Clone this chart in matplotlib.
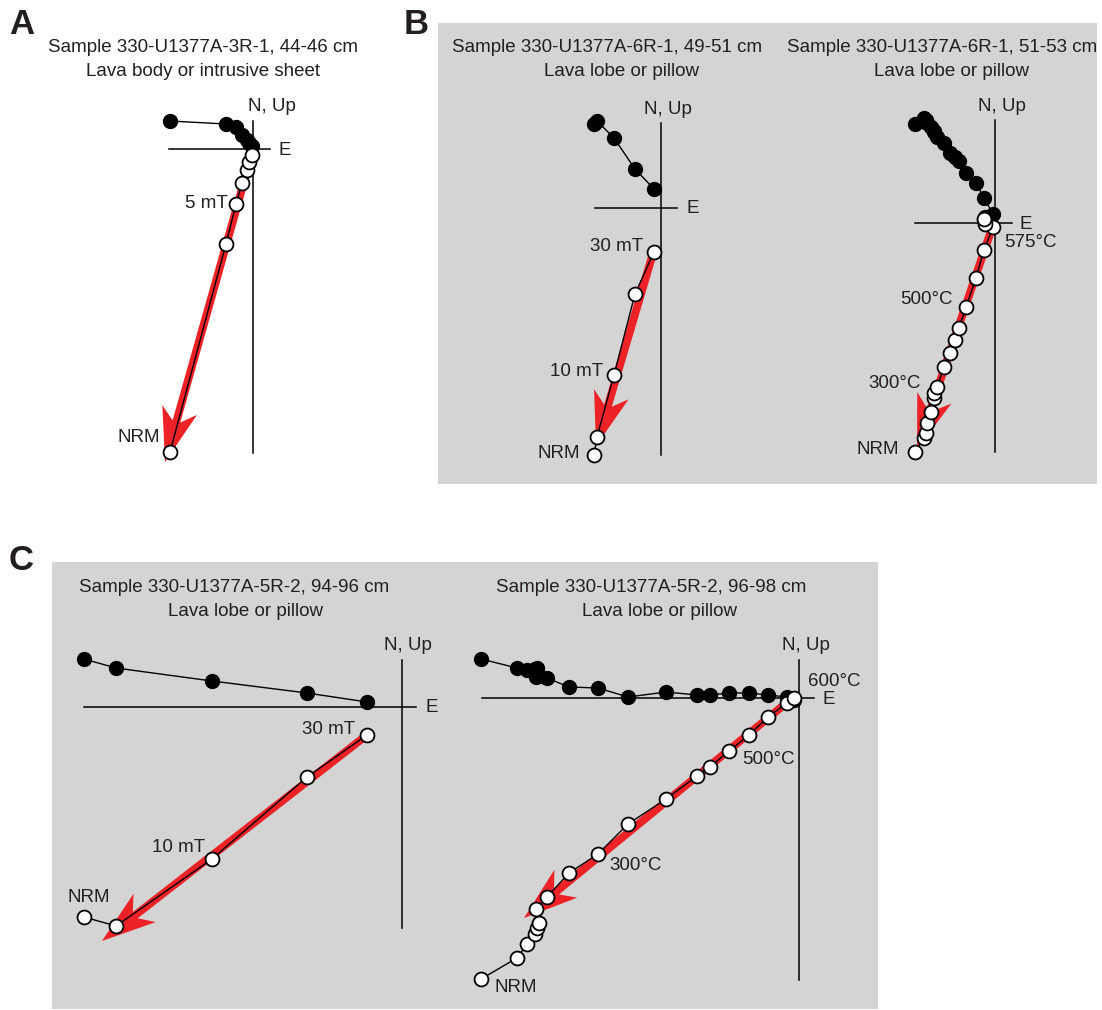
"""
Orthogonal vector (Zijderveld) plots for five Site U1377 samples.
"""

import matplotlib.pyplot as plt
import matplotlib.patches as mpatches

plt.rcParams["font.family"] = ["Liberation Sans", "DejaVu Sans"]

W, H = 1102, 1010
TXT = "#231f20"
RED = "#ec2227"
GREY = "#d4d4d4"

# ── data (arbitrary units, shared east component) ─────────────────────
a_east = [-83, -27, -17, -11, -6, -4, -1]
a_north = [28, 25, 22, 14, 9, 6, 3]
a_up = [-303, -95, -55, -34, -21, -13, -6]
a_fit = [(-2, -8), (-88, -313)]
a_labels = {0: "NRM", 2: "5 mT"}

bl_east = [-67, -64, -47, -26, -7]
bl_north = [84, 87, 70, 39, 19]
bl_up = [-247, -229, -167, -86, -44]
bl_fit = [(-7, -42), (-65, -238)]
bl_labels = {0: "NRM", 2: "10 mT", 4: "30 mT"}

br_east = [-80, -71, -69, -68, -64, -61, -61, -58, -51, -45, -40, -36,
           -29, -19, -11, -2, -10, -11]
br_north = [99, 105, 103, 100, 96, 92, 91, 86, 80, 70, 66, 62,
            50, 40, 25, 9, 6, 4]
br_up = [-229, -215, -210, -200, -189, -175, -170, -164, -144, -130, -117,
         -105, -84, -55, -27, -4, -1, 4]
br_fit = [(-2, -2), (-78, -226)]
br_labels = {0: "NRM", 7: "300°C", 12: "500°C", 15: "575°C"}

cl_east = [-318, -286, -190, -95, -35]
cl_north = [48, 39, 26, 14, 5]
cl_up = [-210, -219, -152, -70, -28]
cl_fit = [(-35, -28), (-300, -234)]
cl_labels = {0: "NRM", 2: "10 mT", 4: "30 mT"}

cr_east = [-318, -282, -272, -264, -262, -260, -263, -252, -230, -201, -171,
           -133, -102, -89, -70, -50, -31, -12, -5]
cr_north = [39, 30, 28, 29, 30, 22, 21, 20, 11, 10, 1, 6, 3, 3, 5, 5, 3, 1, -2]
cr_up = [-281, -260, -246, -236, -230, -225, -211, -199, -175, -156, -126,
         -101, -78, -69, -53, -37, -19, -5, 0]
cr_fit = [(-9, -2), (-275, -220)]
cr_labels = {0: "NRM", 9: "300°C", 14: "500°C", 18: "600°C"}


fig = plt.figure(figsize=(W / 100, H / 100), dpi=100)

# grey backgrounds behind B and C
bg = fig.add_axes([0, 0, 1, 1], zorder=-10)
bg.set_xlim(0, W)
bg.set_ylim(H, 0)
bg.axis("off")
for x0, y0, x1, y1 in [(438, 23, 1097, 484), (52, 562, 878, 1009)]:
    bg.add_patch(mpatches.Rectangle((x0, y0), x1 - x0, y1 - y0,
                                    facecolor=GREY, edgecolor="none"))


def zijderveld(origin, xlim, ylim, east, north, up, fit, labels, label_pos,
               npos, epos):
    """Axes in pixel-like units with origin at the cross of the axis lines."""
    ox, oy = origin
    ax = fig.add_axes([(ox + xlim[0]) / W, 1 - (oy - ylim[0]) / H,
                       (xlim[1] - xlim[0]) / W, (ylim[1] - ylim[0]) / H])
    ax.set_xlim(*xlim)
    ax.set_ylim(*ylim)
    ax.patch.set_visible(False)
    for s in ("top", "right"):
        ax.spines[s].set_visible(False)
    for s in ("left", "bottom"):
        ax.spines[s].set_position("zero")
        ax.spines[s].set_linewidth(1.1)
    ax.set_xticks([])
    ax.set_yticks([])

    (x0, y0), (x1, y1) = fit
    ax.arrow(x0, y0, x1 - x0, y1 - y0, width=8, head_width=36,
             head_length=54, overhang=0.22, length_includes_head=True,
             color=RED, lw=0, zorder=1, clip_on=False)

    ax.plot(east, north, color="k", lw=1.0, marker="o", ms=10,
            mfc="k", mec="k", zorder=3, clip_on=False)
    ax.plot(east, up, color="k", lw=1.0, marker="o", ms=10,
            mfc="white", mec="k", mew=1.3, zorder=3, clip_on=False)

    for i, txt in labels.items():
        dx, dy, ha = label_pos[i]
        ax.text(dx, dy, txt, ha=ha, va="center", fontsize=13.5, color=TXT)
    ax.text(npos[0], npos[1], "N, Up", ha="center", va="center",
            fontsize=13.5, color=TXT)
    ax.text(epos[0], epos[1], "E", ha="left", va="center",
            fontsize=13.5, color=TXT)
    return ax


zijderveld((253, 149), (-84, 17), (-304, 28), a_east, a_north, a_up, a_fit,
           a_labels, {0: (-93, -288, "right"), 2: (-25, -55, "right")},
           (19, 42), (25, -2))
zijderveld((661, 208), (-66, 16), (-247, 85), bl_east, bl_north, bl_up,
           bl_fit, bl_labels,
           {0: (-81, -245, "right"), 2: (-58, -163, "right"),
            4: (-18, -39, "right")},
           (7, 98), (25, -1))
zijderveld((995, 223), (-80, 17), (-229, 103), br_east, br_north, br_up,
           br_fit, br_labels,
           {0: (-96, -227, "right"), 7: (-74, -160, "right"),
            12: (-42, -77, "right"), 15: (9, -20, "left")},
           (7, 116), (25, -2))
zijderveld((402, 707), (-318, 14), (-221, 47), cl_east, cl_north, cl_up,
           cl_fit, cl_labels,
           {0: (-313, -190, "center"), 2: (-197, -140, "right"),
            4: (-47, -23, "right")},
           (6, 62), (23, -1))
zijderveld((799, 698), (-317, 15), (-282, 38), cr_east, cr_north, cr_up,
           cr_fit, cr_labels,
           {0: (-304, -289, "left"), 9: (-190, -167, "left"),
            14: (-57, -62, "left"), 18: (9, 16, "left")},
           (7, 53), (23, -2))

# ── titles and panel letters ──────────────────────────────────────────
titles = [
    (203, 48, "Sample 330-U1377A-3R-1, 44-46 cm", 203, "Lava body or intrusive sheet"),
    (607, 48, "Sample 330-U1377A-6R-1, 49-51 cm", 621, "Lava lobe or pillow"),
    (942, 48, "Sample 330-U1377A-6R-1, 51-53 cm", 952, "Lava lobe or pillow"),
    (234, 588, "Sample 330-U1377A-5R-2, 94-96 cm", 245, "Lava lobe or pillow"),
    (651, 588, "Sample 330-U1377A-5R-2, 96-98 cm", 660, "Lava lobe or pillow"),
]
for x1, y, l1, x2, l2 in titles:
    fig.text(x1 / W, 1 - y / H, l1, ha="center", va="center",
             fontsize=13.5, color=TXT)
    fig.text(x2 / W, 1 - (y + 24) / H, l2, ha="center", va="center",
             fontsize=13.5, color=TXT)

for x, y, letter in [(22, 24, "A"), (416, 24, "B"), (21, 560, "C")]:
    fig.text(x / W, 1 - y / H, letter, ha="center", va="center",
             fontsize=25, fontweight="bold", color=TXT)

fig.savefig("out.png", dpi=100)
